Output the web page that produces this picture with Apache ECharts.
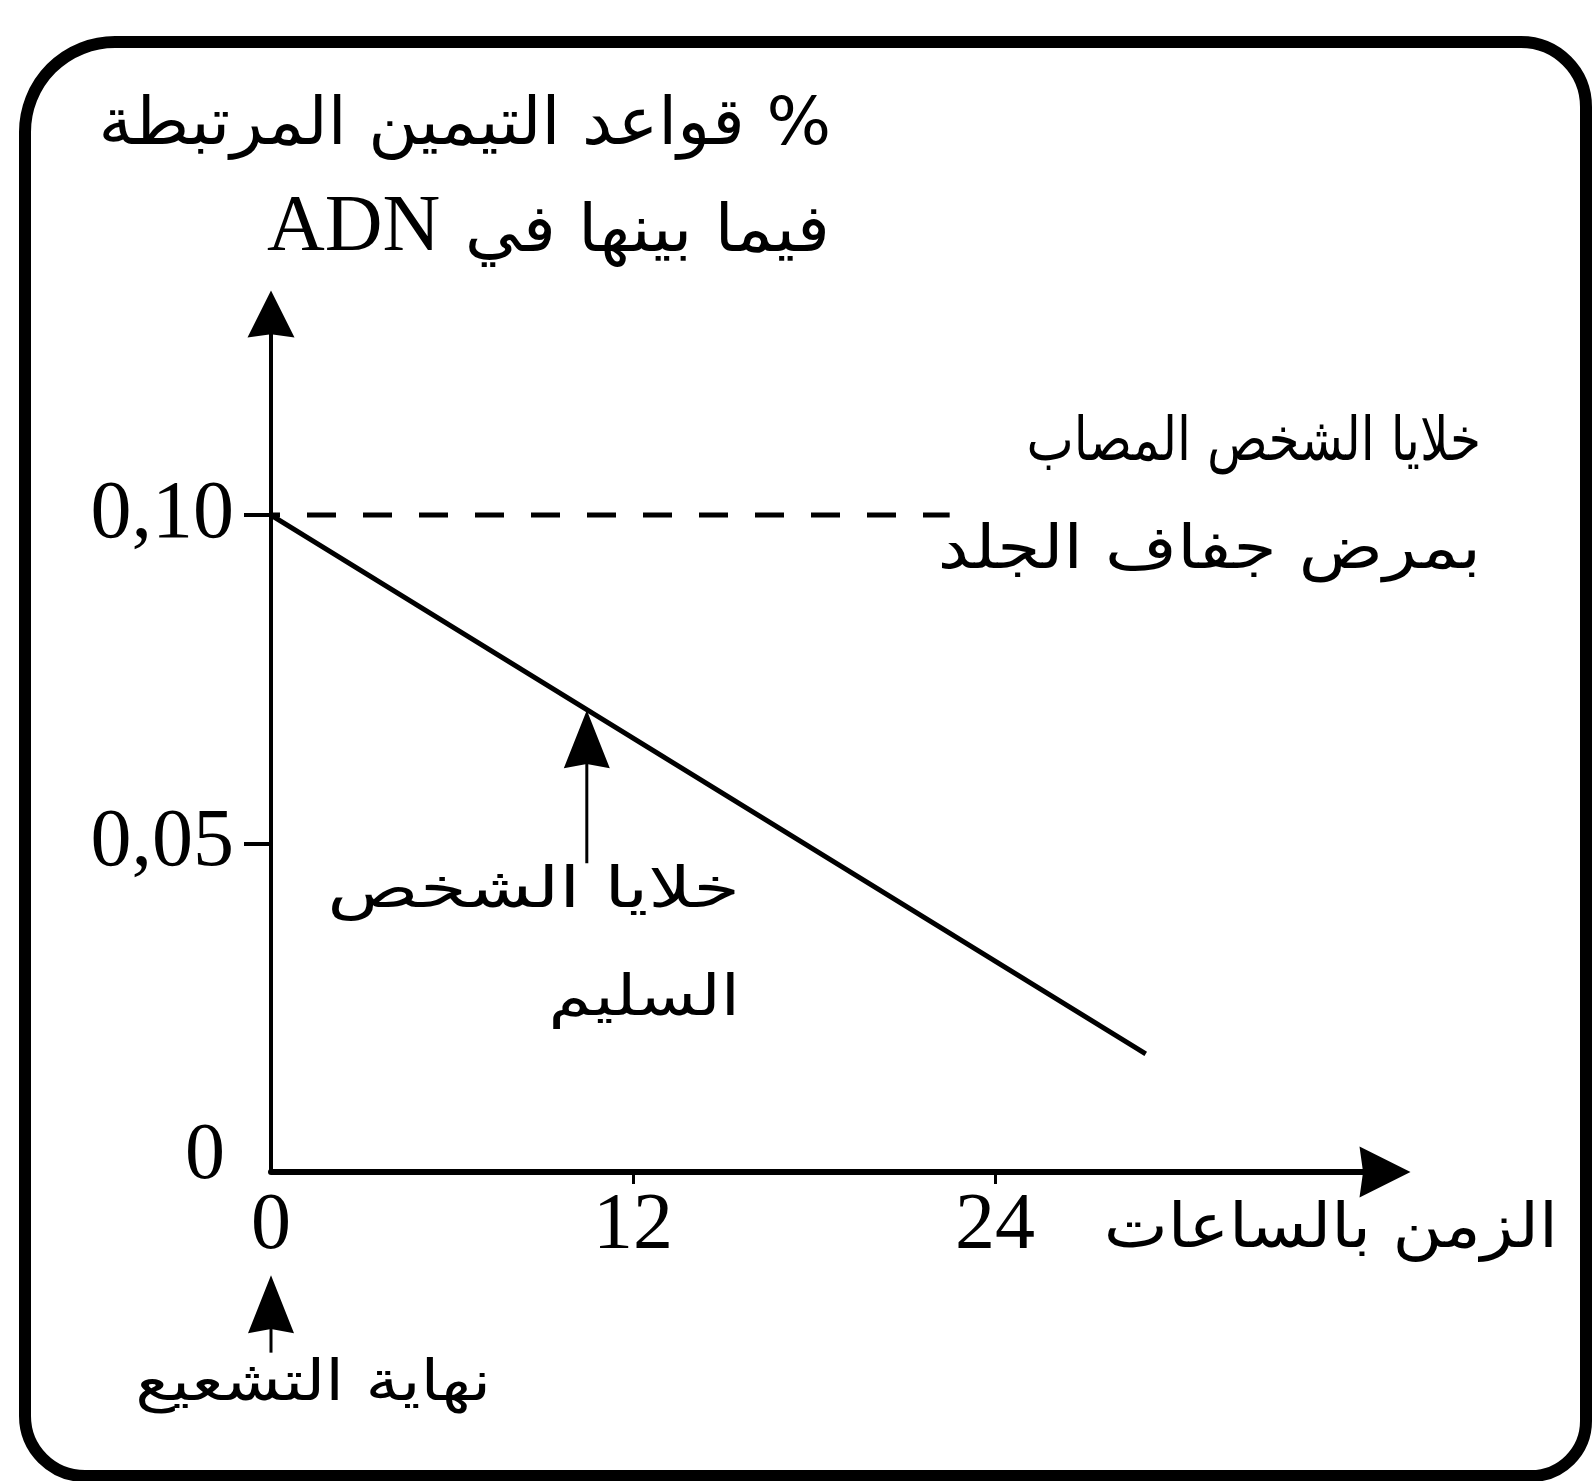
<!DOCTYPE html>
<html><head><meta charset="utf-8">
<script src="https://cdn.jsdelivr.net/npm/echarts@6/dist/echarts.min.js"></script>
<style>html,body{margin:0;padding:0;background:#fff}#c{width:1593px;height:1481px}</style>
</head><body><div id="c"></div>
<script>
// ---- data ----
const xTickValues = [0, 12, 24];
const xTickLabels = ['0', '12', '24'];
const yTickValues = [0, 0.05, 0.10];
const yTickLabels = ['0', '0,05', '0,10'];
const healthyHours = [0, 29];
const healthyValues = [0.10, 0.018];
const sickHours = [0, 22.5];
const sickValues = [0.10, 0.10];
// annotation arrows: [hour, value at tail, value at tip]
const arrowHealthy = [10.47, 0.047, 0.0703];
const arrowIrradiationEnd = [0, -0.0275, -0.0157];
const xAxisName = 'الزمن بالساعات';
const yAxisNameLine1 = '\u200F% قواعد التيمين المرتبطة';
const yAxisNameLine2 = 'فيما بينها في';
const yAxisNameLatin = 'ADN';
const sickLabel = ['خلايا الشخص المصاب', 'بمرض جفاف الجلد'];
const healthyLabel = ['خلايا الشخص', 'السليم'];
const irradiationLabel = 'نهاية التشعيع';

// ---- chart ----
const AR = '"DejaVu Sans Condensed","DejaVu Sans",sans-serif';
const SERIF = '"Liberation Serif","DejaVu Serif",serif';
const ARROW = 'path://M0,0 L10,20 L0,18.6 L-10,20 Z';
const chart = echarts.init(document.getElementById('c'), null, {renderer: 'canvas'});

function arrowItem(params, api) {
  const p0 = api.coord([api.value(0), api.value(1)]);
  const p1 = api.coord([api.value(0), api.value(2)]);
  const w = 46, h = 58;
  return {
    type: 'group',
    children: [
      {type: 'line', shape: {x1: p0[0], y1: p0[1], x2: p1[0], y2: p1[1] + h * 0.9},
       style: {stroke: '#000', lineWidth: 3}},
      {type: 'polygon', shape: {points: [[p1[0], p1[1]], [p1[0] + w / 2, p1[1] + h],
        [p1[0], p1[1] + h * 0.93], [p1[0] - w / 2, p1[1] + h]]},
       style: {fill: '#000'}}
    ]
  };
}

function txt(text, right, baseline, size, sx, family) {
  return {
    type: 'text', x: right, y: baseline - size * 0.35, scaleX: sx, z: 10,
    style: {text: text, fill: '#000', font: size + 'px ' + (family || AR), align: 'right', verticalAlign: 'middle'}
  };
}

const option = {
  backgroundColor: '#fff',
  animation: false,
  grid: {left: 271, top: 318, width: 1110, height: 854, outerBoundsMode: 'none', containLabel: false},
  xAxis: {
    type: 'value', min: 0, max: 36.8, interval: 12,
    axisLine: {show: true, onZero: false, symbol: ['none', ARROW], symbolSize: [51, 70], symbolOffset: [0, 4],
      lineStyle: {color: '#000', width: 6}},
    axisTick: {show: true, customValues: [12, 24], length: 12, inside: false,
      lineStyle: {color: '#000', width: 3}},
    axisLabel: {show: true, customValues: xTickValues, margin: 15, color: '#000',
      fontFamily: SERIF, fontSize: 80,
      formatter: v => xTickLabels[xTickValues.indexOf(v)]},
    splitLine: {show: false}
  },
  yAxis: {
    type: 'value', min: 0, max: 0.13, interval: 0.05,
    axisLine: {show: true, onZero: false, symbol: ['none', ARROW], symbolSize: [47, 63], symbolOffset: [0, 4],
      lineStyle: {color: '#000', width: 4}},
    axisTick: {show: true, customValues: [0.05, 0.10], length: 27, inside: false,
      lineStyle: {color: '#000', width: 4}},
    axisLabel: {show: true, customValues: yTickValues, margin: 37, color: '#000',
      fontFamily: SERIF, fontSize: 82,
      formatter: v => { const i = yTickValues.indexOf(v); return i === 0 ? '{z|' + yTickLabels[i] + '}' : yTickLabels[i]; },
      rich: {z: {fontFamily: SERIF, fontSize: 80, color: '#000', padding: [0, 9, 30, 0]}}},
    splitLine: {show: false}
  },
  series: [
    {type: 'line', data: healthyHours.map((h, i) => [h, healthyValues[i]]), symbol: 'none',
     lineStyle: {color: '#000', width: 5}, z: 3},
    {type: 'line', data: sickHours.map((h, i) => [h, sickValues[i]]), symbol: 'none',
     lineStyle: {color: '#000', width: 5, type: [29, 27], dashOffset: 20}, z: 3},
    {type: 'custom', clip: false, renderItem: arrowItem, encode: {x: 0, y: [1, 2]},
     data: [arrowHealthy, arrowIrradiationEnd], z: 4}
  ],
  graphic: [
    {type: 'rect', z: -1, shape: {x: 25, y: 42, width: 1561, height: 1434, r: [90, 65, 55, 60]},
     style: {fill: 'none', stroke: '#000', lineWidth: 12}},
    txt(yAxisNameLine1, 831, 150, 66, 1.145),
    txt(yAxisNameLine2, 830, 257, 66, 1.17),
    {type: 'text', x: 267, y: 257 - 80 * 0.35, z: 10,
     style: {text: yAxisNameLatin, fill: '#000', font: '80px ' + SERIF, align: 'left', verticalAlign: 'middle'}},
    txt(sickLabel[0], 1481, 465, 60, 0.93),
    txt(sickLabel[1], 1481, 573, 60, 1.29),
    txt(healthyLabel[0], 740, 912, 56, 1.5),
    txt(healthyLabel[1], 740, 1020, 56, 1.37),
    txt(xAxisName, 1558, 1253, 62, 1.22),
    txt(irradiationLabel, 491, 1405, 56, 1.34)
  ]
};
chart.setOption(option);
</script>
</body></html>
